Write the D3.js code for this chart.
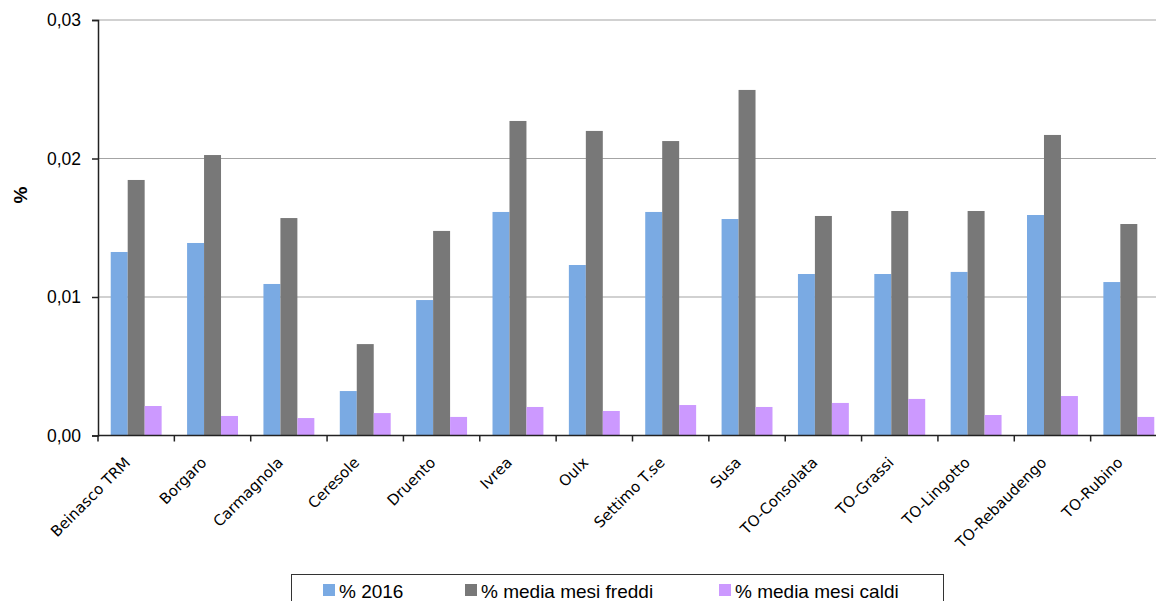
<!DOCTYPE html>
<html>
<head>
<meta charset="utf-8">
<script src="https://cdn.jsdelivr.net/npm/d3@7"></script>
<style>
  html, body { margin: 0; padding: 0; background: #fff; }
  svg { display: block; }
</style>
</head>
<body>
<svg id="chart" width="1156" height="601"></svg>
<script>
// Monitoring stations
const stations = [
  "Beinasco TRM", "Borgaro", "Carmagnola", "Ceresole", "Druento", "Ivrea", "Oulx",
  "Settimo T.se", "Susa", "TO-Consolata", "TO-Grassi", "TO-Lingotto", "TO-Rebaudengo", "TO-Rubino"
];

// Series values (%)
const pct2016 = [0.01325, 0.0139, 0.01094, 0.00321, 0.00978, 0.01614, 0.01231,
                 0.01614, 0.01563, 0.01166, 0.01166, 0.01181, 0.01592, 0.01108];
const pctFreddi = [0.01845, 0.02025, 0.0157, 0.0066, 0.01477, 0.02271, 0.02199,
                   0.02126, 0.02495, 0.01585, 0.01621, 0.01621, 0.0217, 0.01527];
const pctCaldi = [0.00213, 0.00141, 0.00126, 0.00162, 0.00134, 0.00206, 0.00177,
                  0.0022, 0.00206, 0.00235, 0.00264, 0.00148, 0.00285, 0.00134];

const seriesNames = ["% 2016", "% media mesi freddi", "% media mesi caldi"];
const seriesColors = ["#7aaae3", "#787878", "#cc99ff"];
const yTicks = [0, 0.01, 0.02, 0.03];

(function () {
  const svg = d3.select("#chart");

  const plotLeft = 98, plotRight = 1167, plotTop = 20, plotBottom = 435.5;

  const x = d3.scaleBand().domain(stations).range([plotLeft, plotRight]);
  // three bars per group, gap of 1.5 bar widths split around the group
  const barW = x.bandwidth() / 4.5;
  const groupOffset = barW * 0.75;

  const y = d3.scaleLinear().domain([0, 0.03]).range([plotBottom, plotTop]);
  const fmt = v => d3.format(".2f")(v).replace(".", ",");

  // Gridlines
  svg.append("g")
    .selectAll("line")
    .data(yTicks.filter(d => d > 0))
    .join("line")
    .attr("x1", plotLeft).attr("x2", plotRight)
    .attr("y1", d => y(d)).attr("y2", d => y(d))
    .attr("stroke", "#a4a4a4").attr("stroke-width", 1.2);

  // Bars
  const series = [pct2016, pctFreddi, pctCaldi];
  series.forEach((vals, si) => {
    svg.append("g")
      .selectAll("rect")
      .data(stations)
      .join("rect")
      .attr("x", d => x(d) + groupOffset + si * barW)
      .attr("width", barW)
      .attr("y", (d, i) => y(vals[i]))
      .attr("height", (d, i) => y(0) - y(vals[i]))
      .attr("fill", seriesColors[si]);
  });

  // Y axis
  const yAxis = d3.axisLeft(y).tickValues(yTicks).tickFormat(fmt).tickSize(6).tickPadding(11);
  const gy = svg.append("g").attr("transform", `translate(${plotLeft},0)`).call(yAxis);
  gy.select(".domain").attr("stroke", "#222").attr("stroke-width", 1.5);
  gy.selectAll(".tick line").attr("stroke", "#222").attr("stroke-width", 1.5);
  gy.selectAll(".tick text")
    .attr("font-family", "Liberation Sans, Arial, sans-serif")
    .attr("font-size", 17.5).attr("fill", "#000");

  // X axis (ticks at band boundaries)
  svg.append("line")
    .attr("x1", plotLeft).attr("x2", plotRight).attr("y1", plotBottom).attr("y2", plotBottom)
    .attr("stroke", "#222").attr("stroke-width", 1.5);
  svg.append("g")
    .selectAll("line")
    .data(stations)
    .join("line")
    .attr("x1", d => x(d)).attr("x2", d => x(d))
    .attr("y1", plotBottom).attr("y2", plotBottom + 6)
    .attr("stroke", "#222").attr("stroke-width", 1.5);

  svg.append("g")
    .selectAll("text")
    .data(stations)
    .join("text")
    .attr("transform", d => `translate(${x(d) + x.bandwidth() / 2 - 5},${plotBottom + 28}) rotate(-45)`)
    .attr("text-anchor", "end")
    .attr("font-family", "'DejaVu Sans', sans-serif")
    .attr("font-size", 15)
    .attr("fill", "#000")
    .text(d => d);

  // Y axis title
  svg.append("text")
    .attr("transform", "translate(27,195) rotate(-90)")
    .attr("text-anchor", "middle")
    .attr("font-family", "Liberation Sans, Arial, sans-serif")
    .attr("font-size", 19).attr("font-weight", "bold")
    .text("%");

  // Legend
  const legend = svg.append("g");
  legend.append("rect")
    .attr("x", 291.5).attr("y", 574.5).attr("width", 652).attr("height", 40)
    .attr("fill", "#fff").attr("stroke", "#333").attr("stroke-width", 1);
  const legendX = [323, 465, 719];
  seriesNames.forEach((name, i) => {
    legend.append("rect")
      .attr("x", legendX[i]).attr("y", 584).attr("width", 12).attr("height", 12)
      .attr("fill", seriesColors[i]);
    legend.append("text")
      .attr("x", legendX[i] + 16).attr("y", 597.5)
      .attr("font-family", "Liberation Sans, Arial, sans-serif")
      .attr("font-size", 19).attr("fill", "#000")
      .text(name);
  });
})();
</script>
</body>
</html>
